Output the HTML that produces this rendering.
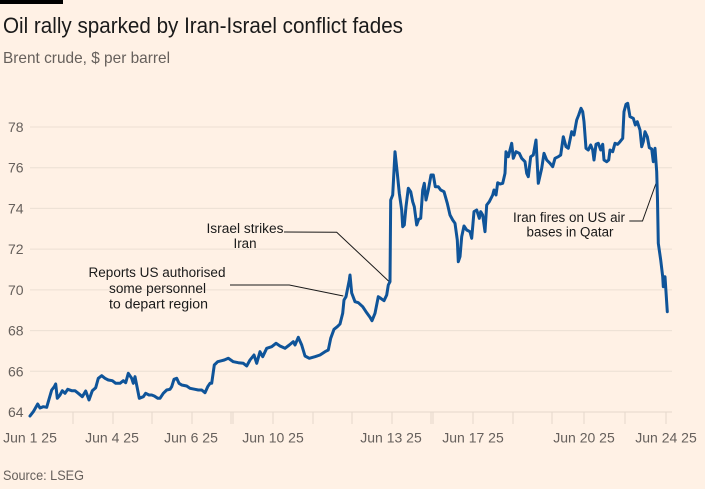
<!DOCTYPE html>
<html>
<head>
<meta charset="utf-8">
<style>
  html, body { margin: 0; padding: 0; background: #fff1e5; }
  svg { display: block; }
  text { font-family: "Liberation Sans", "DejaVu Sans", sans-serif; }
</style>
</head>
<body>
<svg width="705" height="489" viewBox="0 0 705 489" xmlns="http://www.w3.org/2000/svg">
  <rect x="0" y="0" width="705" height="489" fill="#fff1e5"/>
  <rect x="0" y="0" width="63" height="4" fill="#000"/>

  <text x="3" y="33" font-size="22" fill="#1a1a1a" textLength="400" lengthAdjust="spacingAndGlyphs">Oil rally sparked by Iran-Israel conflict fades</text>
  <text x="3" y="63" font-size="16" fill="#66605c" textLength="167" lengthAdjust="spacingAndGlyphs">Brent crude, $ per barrel</text>

  <!-- gridlines -->
  <g stroke="#ecdfd3" stroke-width="1">
    <line x1="30" y1="127" x2="672" y2="127"/>
    <line x1="30" y1="167.7" x2="672" y2="167.7"/>
    <line x1="30" y1="208.4" x2="672" y2="208.4"/>
    <line x1="30" y1="249.1" x2="672" y2="249.1"/>
    <line x1="30" y1="289.9" x2="672" y2="289.9"/>
    <line x1="30" y1="330.6" x2="672" y2="330.6"/>
    <line x1="30" y1="371.3" x2="672" y2="371.3"/>
  </g>
  <line x1="30" y1="412" x2="672" y2="412" stroke="#e4d7cb" stroke-width="1"/>
  <g stroke="#e4d7cb" stroke-width="1">
    <line x1="73" y1="412" x2="73" y2="424"/>
    <line x1="113" y1="412" x2="113" y2="424"/>
    <line x1="152" y1="412" x2="152" y2="424"/>
    <line x1="192" y1="412" x2="192" y2="424"/>
    <line x1="231" y1="412" x2="231" y2="424"/>
    <line x1="233" y1="412" x2="233" y2="424"/>
    <line x1="273" y1="412" x2="273" y2="424"/>
    <line x1="313" y1="412" x2="313" y2="424"/>
    <line x1="352" y1="412" x2="352" y2="424"/>
    <line x1="392" y1="412" x2="392" y2="424"/>
    <line x1="431" y1="412" x2="431" y2="424"/>
    <line x1="433" y1="412" x2="433" y2="424"/>
    <line x1="473" y1="412" x2="473" y2="424"/>
    <line x1="513" y1="412" x2="513" y2="424"/>
    <line x1="552" y1="412" x2="552" y2="424"/>
    <line x1="584" y1="412" x2="584" y2="424"/>
    <line x1="625" y1="412" x2="625" y2="424"/>
    <line x1="666" y1="412" x2="666" y2="424"/>
  </g>

  <!-- y labels -->
  <g font-size="14" fill="#66605c">
    <text x="8" y="132">78</text>
    <text x="8" y="172.7">76</text>
    <text x="8" y="213.4">74</text>
    <text x="8" y="254.1">72</text>
    <text x="8" y="294.9">70</text>
    <text x="8" y="335.6">68</text>
    <text x="8" y="376.3">66</text>
    <text x="8" y="417">64</text>
  </g>

  <!-- x labels -->
  <g font-size="14" fill="#66605c" text-anchor="middle">
    <text x="30" y="442.5">Jun 1 25</text>
    <text x="112" y="442.5">Jun 4 25</text>
    <text x="191" y="442.5">Jun 6 25</text>
    <text x="273" y="442.5">Jun 10 25</text>
    <text x="391" y="442.5">Jun 13 25</text>
    <text x="473" y="442.5">Jun 17 25</text>
    <text x="584" y="442.5">Jun 20 25</text>
    <text x="666" y="442.5">Jun 24 25</text>
  </g>

  <text x="3" y="480" font-size="14" fill="#66605c" textLength="81" lengthAdjust="spacingAndGlyphs">Source: LSEG</text>

  <!-- annotation leader lines -->
  <g stroke="#1a1a1a" stroke-width="1" fill="none">
    <polyline points="284,232 336.7,232.3 389.3,281.7"/>
    <polyline points="230,285 289.3,285 343.3,296"/>
    <polyline points="629.3,221 642.5,221 656.5,182"/>
  </g>

  <!-- annotations -->
  <g font-size="13.5" fill="#1a1a1a" text-anchor="middle">
    <text x="245" y="233" textLength="77" lengthAdjust="spacingAndGlyphs">Israel strikes</text>
    <text x="245" y="248" textLength="23" lengthAdjust="spacingAndGlyphs">Iran</text>
    <text x="157" y="277" textLength="137" lengthAdjust="spacingAndGlyphs">Reports US authorised</text>
    <text x="157.5" y="293" textLength="97" lengthAdjust="spacingAndGlyphs">some personnel</text>
    <text x="158.5" y="308.5" textLength="99" lengthAdjust="spacingAndGlyphs">to depart region</text>
    <text x="569" y="222" textLength="112" lengthAdjust="spacingAndGlyphs">Iran fires on US air</text>
    <text x="570" y="236.5" textLength="87" lengthAdjust="spacingAndGlyphs">bases in Qatar</text>
  </g>

  <!-- series -->
  <polyline fill="none" stroke="#0f5499" stroke-width="3" stroke-linejoin="round" stroke-linecap="round" points="
30,416 33.3,411.7 37.7,404 40,408 43.3,406.7 46.7,407.3 48.3,401.7 51.7,390 54.3,386.7 55.7,384 57.3,398.3 60,395 62.3,390.7 65,393.3 67.7,389.3 71.7,390.7 75,390.7 78.3,393.3 82.3,396.7 85.7,391 89,400 92.3,390.7 95.7,387.7 98.3,378.3 101.7,375.7 105,378.3 108.3,380 112.3,380.7 115.7,383.3 120,383.3 123.3,380.7 125.7,382.7 128.3,373.3 131.7,378.3 133.3,383.3 135,376.7 137,386.7 139.3,398.3 143.3,396.7 145.7,393.3 149,395 151.7,395 154.3,396 157.7,398.3 160,398.3 163.3,393.3 166.7,390 170,389.3 171.7,386.7 174,379.3 176.7,378.3 179,383.3 181.7,385 186.7,386 190,388.3 195,389.3 198.3,390 201.7,390 205,392.7 207.7,386.7 210,383.3 211.7,383.3 214.3,365 217.7,361.7 221.7,360.7 224.3,360
228.3,358.3 233.3,361.7 238.3,362.7 243.3,363.3 246.7,366 250,360 254,355 256.7,363.3 260,351.7 262.7,356.7 266.7,348.3 271.7,346.7 276,343.3 280,346 285,348.3 289.3,345 293.3,341.7 295,345 298.3,337.3 301.7,345 305,356 309.3,358.3 315,356.7 320,355 325,351.7 328.3,350 330.7,338.3 334,329.3 337.3,326.7 340,324 342.7,313.3 344,300 346,296.7 349.3,280 350,275 351.7,293 355,301.7 358.3,302.7 362.7,306.7 366,311.7 370,317.3 372,320.7 375,313.3 378.3,296.7 380.7,298.3 384,300.7 386.7,295 388.3,285 390,281.7
390.7,200 392.7,195 395,151.7 397.3,173.3 399.3,193.3 401.7,210 402.7,226.7 404.3,225 406,206.7 408.3,188.3 410.7,191.7 412.7,201.7 414.3,206.7 416.7,225 418.7,219.3 420.7,218.3 422.7,190 424.3,183.3 426,200 428.3,190 431,175 433.3,175 435.3,186.7 438.3,186.7 440.7,190 444,191.7 447.3,203.3 450,215 452.7,220 455,223.3 457.3,240 458.3,261.7 460,256.7 461.7,236.7 464,226 466.7,230 470,231.7 471.7,238.3 474,211.7 476.7,210 479.3,218.3 480.7,211.7 482.7,215 485,231.7 486.7,205 489.3,201.7 492.7,195 494,190 496,195 497.7,182.7 500,184
502.7,183.3 505,173.3 506,151.7 508.3,156.7 511.7,143.3 513.3,158.3 516,151.7 519.3,153.3 521.7,158.3 525,161.7 526.7,173.3 528.3,176.7 530.7,156.7 533.3,155 536,140 538.3,183.3 541.7,168.3 544,153.3 546.7,160 550,163.3 552.7,166.7 555,158.3 558.3,156.7 560.7,155 563.3,136.7 566,146.7 568.3,148.3 571.7,131.7 574,135 576.7,120 578.7,115 581,108.3 582.7,111.7 584,121.7 586,148.3 588.3,150 590.7,145 592.7,150 594,160 596,144.3 598.3,143.3 600.7,150 602.7,144.3 604,160 606.7,161.7 608.7,160 610,150 612.7,151.7 615,143.3 617.7,144.3 620,141.7 622.7,138.3 624,111.7 626,104.3 627.7,103.3 630,116.7 633.3,118.3 635.3,125 637.3,121.7 640,130 641.7,146.7 643.3,141.7 645,131.7 647.3,136.7 649.3,147.7 651.7,149 653.3,161.7 655,148.3 656.7,171.7 657.5,200 658.3,243.3 660.7,260 662.7,276.7 663.3,286.7 665,276.7 667.3,311.7"/>
</svg>
</body>
</html>
